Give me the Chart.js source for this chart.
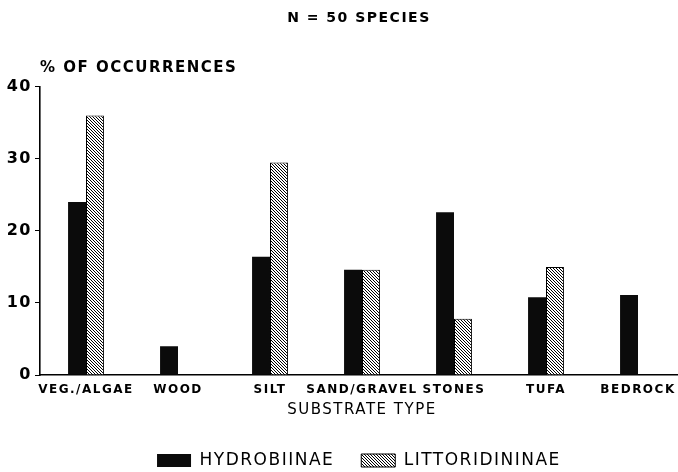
<!DOCTYPE html>
<html>
<head>
<meta charset="utf-8">
<script src="https://cdn.jsdelivr.net/npm/chart.js@4/dist/chart.umd.min.js"></script>
<style>
  html, body { margin: 0; padding: 0; background: #fff; }
  #wrap { width: 678px; height: 472px; }
</style>
</head>
<body>
<div id="wrap"><canvas id="grafico" width="678" height="472"></canvas></div>
<script>
// dados
const substratos = ['VEG./ALGAE', 'WOOD', 'SILT', 'SAND/GRAVEL', 'STONES', 'TUFA', 'BEDROCK'];
const hydrobiinae = [24, 4, 16.4, 14.6, 22.6, 10.8, 11.1];
const littoridininae = [36, 0, 29.5, 14.6, 7.8, 15, 0];
const ticksY = [0, 10, 20, 30, 40];

const fonte = 'DejaVu Sans, sans-serif';

// padrão de hachura diagonal
function hachura() {
    const c = document.createElement('canvas');
    c.width = 3; c.height = 3;
    const g = c.getContext('2d');
    g.fillStyle = '#fff';
    g.fillRect(0, 0, 3, 3);
    g.strokeStyle = '#000';
    g.lineWidth = 1;
    g.beginPath();
    g.moveTo(-1, -1); g.lineTo(4, 4);
    g.moveTo(-2, 1); g.lineTo(2, 5);
    g.moveTo(1, -2); g.lineTo(5, 2);
    g.stroke();
    return g.createPattern(c, 'repeat');
}

// letras espaçadas como no original
const espacamento = {
    id: 'espacamento',
    beforeInit(chart) { chart.ctx.letterSpacing = '1.5px'; },
    beforeUpdate(chart) { chart.ctx.letterSpacing = '1.5px'; },
    beforeDraw(chart) { chart.ctx.letterSpacing = '1.5px'; }
};

// o eixo x do original passa um pouco da borda direita
const eixoLongo = {
    id: 'eixoLongo',
    afterLayout(chart) {
        const x = chart.scales.x;
        x.right = 684;
        x.width = x.right - x.left;
        x.configure();
        chart.chartArea.right = 684;
        chart.chartArea.width = 684 - chart.chartArea.left;
    }
};

// titulo do eixo y, horizontal acima do eixo
const tituloY = {
    id: 'tituloY',
    afterDraw(chart) {
        const ctx = chart.ctx;
        ctx.save();
        ctx.font = 'bold 15px ' + fonte;
        ctx.fillStyle = '#000';
        ctx.textBaseline = 'middle';
        ctx.fillText('% OF OCCURRENCES', chart.chartArea.left, chart.chartArea.top - 19);
        ctx.restore();
    }
};

const ctx = document.getElementById('grafico');
const grafico = new Chart(ctx, {
    type: 'bar',
    data: {
        labels: substratos,
        datasets: [{
            label: 'HYDROBIINAE',
            data: hydrobiinae,
            backgroundColor: '#0b0b0b',
            borderWidth: 0
        }, {
            label: 'LITTORIDININAE',
            data: littoridininae,
            backgroundColor: hachura(),
            borderColor: '#000',
            borderWidth: 1,
            borderSkipped: 'bottom'
        }]
    },
    options: {
        responsive: false,
        animation: false,
        devicePixelRatio: 1,
        layout: { padding: { left: 0, right: 0, top: 0, bottom: -7 } },
        datasets: { bar: { categoryPercentage: 0.39, barPercentage: 1.0 } },
        plugins: {
            title: {
                display: true,
                fullSize: false,
                text: 'N = 50 SPECIES',
                color: '#000',
                font: { family: fonte, size: 14, weight: 'bold' },
                padding: { top: 10, bottom: 60 }
            },
            legend: {
                position: 'bottom',
                fullSize: false,
                labels: {
                    color: '#000',
                    boxWidth: 34,
                    boxHeight: 13,
                    padding: 27,
                    font: { family: fonte, size: 17 }
                }
            },
            tooltip: { enabled: false }
        },
        scales: {
            x: {
                grid: { drawOnChartArea: false, drawTicks: false },
                border: { display: true, color: '#000', width: 1.6 },
                ticks: {
                    color: '#000',
                    font: { family: fonte, size: 12, weight: 'bold' },
                    maxRotation: 0,
                    autoSkip: false,
                    padding: 8
                },
                title: {
                    display: true,
                    text: 'SUBSTRATE TYPE',
                    color: '#000',
                    font: { family: fonte, size: 15 },
                    padding: { top: 4, bottom: 6 }
                },
                afterFit(scale) { scale.height = 50; }
            },
            y: {
                min: 0,
                max: 40,
                afterBuildTicks(scale) { scale.ticks = ticksY.map(v => ({ value: v })); },
                grid: { drawOnChartArea: false, drawTicks: true, tickLength: 5, color: '#000' },
                border: { display: true, color: '#000', width: 1.6 },
                ticks: {
                    color: '#000',
                    font: { family: fonte, size: 16, weight: 'bold' },
                    padding: 3
                },
                afterFit(scale) { scale.width = 40; }
            }
        }
    },
    plugins: [espacamento, eixoLongo, tituloY]
});
</script>
</body>
</html>
